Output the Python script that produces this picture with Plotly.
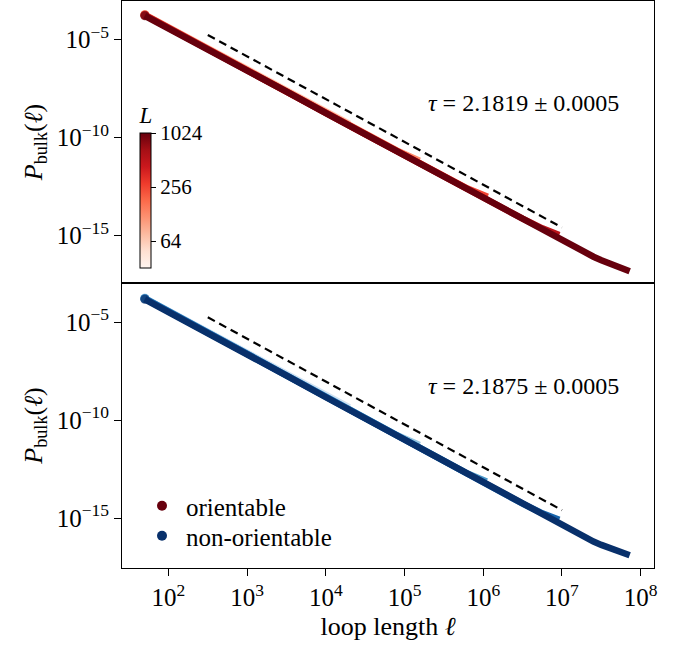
import plotly.graph_objects as go
import math

# ---------------- data (log10 units) ----------------
L_values = [32, 64, 128, 256, 512, 1024]

# orientable (top panel): log10(loop length) and log10(P_bulk) per system size L
ori_x = {
    32:   [1.70, 2.0, 2.5, 3.0, 3.4],
    64:   [1.70, 2.0, 2.5, 3.0, 3.5, 4.0, 4.3],
    128:  [1.70, 2.0, 2.5, 3.0, 3.5, 4.0, 4.5, 4.9, 5.19],
    256:  [1.70, 2.0, 2.5, 3.0, 3.5, 4.0, 4.5, 5.0, 5.5, 5.8, 6.056],
    512:  [1.70, 2.0, 2.5, 3.0, 3.5, 4.0, 4.5, 5.0, 5.5, 6.0, 6.5, 6.75, 6.965],
    1024: [1.70, 1.85, 2.0, 2.5, 3.0, 3.5, 4.0, 4.5, 5.0, 5.5, 6.0, 6.5, 7.0,
           7.1, 7.2, 7.3, 7.4, 7.5, 7.6, 7.7, 7.8, 7.86],
}
ori_y = {
    32:   [-3.72, -4.37, -5.45, -6.52, -7.35],
    64:   [-3.73, -4.38, -5.46, -6.55, -7.62, -8.68, -9.30],
    128:  [-3.74, -4.39, -5.47, -6.56, -7.64, -8.72, -9.80, -10.66, -11.18],
    256:  [-3.75, -4.39, -5.47, -6.56, -7.65, -8.74, -9.83, -10.91, -11.98, -12.60, -13.02],
    512:  [-3.76, -4.40, -5.47, -6.56, -7.65, -8.74, -9.83, -10.92, -12.01, -13.08, -14.14, -14.63, -14.97],
    1024: [-3.79, -4.12, -4.41, -5.48, -6.57, -7.66, -8.75, -9.84, -10.93, -12.02, -13.10, -14.18, -15.27,
           -15.48, -15.69, -15.89, -16.08, -16.26, -16.43, -16.59, -16.74, -16.82],
}

# non-orientable (bottom panel)
non_x = {
    32:   [1.70, 2.0, 2.5, 3.0, 3.4],
    64:   [1.70, 2.0, 2.5, 3.0, 3.5, 4.0, 4.3],
    128:  [1.70, 2.0, 2.5, 3.0, 3.5, 4.0, 4.5, 4.9, 5.19],
    256:  [1.70, 2.0, 2.5, 3.0, 3.5, 4.0, 4.5, 5.0, 5.5, 5.8, 6.043],
    512:  [1.70, 2.0, 2.5, 3.0, 3.5, 4.0, 4.5, 5.0, 5.5, 6.0, 6.5, 6.75, 6.965],
    1024: [1.70, 1.85, 2.0, 2.5, 3.0, 3.5, 4.0, 4.5, 5.0, 5.5, 6.0, 6.5, 7.0,
           7.1, 7.2, 7.3, 7.4, 7.5, 7.6, 7.7, 7.8, 7.86],
}
non_y = {
    32:   [-3.77, -4.41, -5.51, -6.59, -7.44],
    64:   [-3.78, -4.42, -5.52, -6.61, -7.70, -8.78, -9.36],
    128:  [-3.79, -4.43, -5.53, -6.62, -7.72, -8.81, -9.89, -10.77, -11.28],
    256:  [-3.80, -4.43, -5.54, -6.63, -7.73, -8.83, -9.92, -11.01, -12.09, -12.73, -13.14],
    512:  [-3.81, -4.44, -5.54, -6.63, -7.73, -8.83, -9.92, -11.02, -12.11, -13.20, -14.27, -14.76, -15.09],
    1024: [-3.84, -4.16, -4.45, -5.55, -6.64, -7.74, -8.84, -9.93, -11.03, -12.12, -13.22, -14.31, -15.41,
           -15.62, -15.82, -16.02, -16.20, -16.37, -16.53, -16.68, -16.82, -16.90],
}

# power-law guide lines (dashed)
fit_x = [2.5, 7.0]
ori_fit_y = [-4.77, -14.59]
non_fit_y = [-4.76, -14.60]
ori_tau_text = "<i>τ</i> = 2.1819 ± 0.0005"
non_tau_text = "<i>τ</i> = 2.1875 ± 0.0005"

x_tick_exp = [2, 3, 4, 5, 6, 7, 8]
y_tick_exp = [-5, -10, -15]
cbar_ticks = [64, 256, 1024]
legend_labels = ["orientable", "non-orientable"]

# ---------------- styling helpers ----------------
REDS = ["#fff5f0", "#fee0d2", "#fcbba1", "#fc9272", "#fb6a4a", "#ef3b2c", "#cb181d", "#a50f15", "#67000d"]
BLUES = ["#f7fbff", "#deebf7", "#c6dbef", "#9ecae1", "#6baed6", "#4292c6", "#2171b5", "#08519c", "#08306b"]


def hex2rgb(h):
    h = h.lstrip("#")
    return [int(h[i:i + 2], 16) for i in (0, 2, 4)]


def cmap(stops, t):
    t = min(max(t, 0.0), 1.0)
    n = len(stops) - 1
    i = min(int(t * n), n - 1)
    f = t * n - i
    a, b = hex2rgb(stops[i]), hex2rgb(stops[i + 1])
    c = [round(a[k] + (b[k] - a[k]) * f) for k in range(3)]
    return "rgb(%d,%d,%d)" % tuple(c)


LOGMIN, LOGMAX = math.log2(32), math.log2(1024)


def norm(L):
    return (math.log2(L) - LOGMIN) / (LOGMAX - LOGMIN)


FONT = "Liberation Serif"
TICK_FS = 25
TITLE_FS = 26
LEG_FS = 25
ANN_FS = 24
CB_FS = 21

fig = go.Figure()


def add_curve(xs, ys, col, xa, ya):
    sizes = [9] + [0] * (len(xs) - 1)
    fig.add_trace(go.Scatter(
        x=[10 ** v for v in xs], y=[10 ** v for v in ys],
        mode="lines+markers", line=dict(color=col, width=6.5),
        marker=dict(color=col, size=sizes, line=dict(width=0)), showlegend=False,
        xaxis=xa, yaxis=ya, hoverinfo="skip"))


for L in L_values:
    add_curve(ori_x[L], ori_y[L], cmap(REDS, norm(L)), "x2", "y2")
for L in L_values:
    add_curve(non_x[L], non_y[L], cmap(BLUES, norm(L)), "x", "y")

# dashed guides
fig.add_trace(go.Scatter(x=[10 ** v for v in fit_x], y=[10 ** v for v in ori_fit_y], mode="lines",
                         line=dict(color="black", width=2.2, dash="8px,5px"), showlegend=False,
                         xaxis="x2", yaxis="y2"))
fig.add_trace(go.Scatter(x=[10 ** v for v in fit_x], y=[10 ** v for v in non_fit_y], mode="lines",
                         line=dict(color="black", width=2.2, dash="8px,5px"), showlegend=False,
                         xaxis="x", yaxis="y"))

# legend entries (two legends so the row spacing can match)
fig.add_trace(go.Scatter(x=[None], y=[None], mode="markers", name=legend_labels[0],
                         marker=dict(color=REDS[-1], size=10), xaxis="x", yaxis="y", legend="legend"))
fig.add_trace(go.Scatter(x=[None], y=[None], mode="markers", name=legend_labels[1],
                         marker=dict(color=BLUES[-1], size=10), xaxis="x", yaxis="y", legend="legend2"))

# colorbar carrier
PL, PR, PT, PB = 122, 34, 1, 77
W, H = 688, 645
pw, ph = W - PL - PR, H - PT - PB
cb_top_px, cb_len_px = 103, 165
fig.add_trace(go.Scatter(
    x=[None], y=[None], mode="markers", showlegend=False, xaxis="x2", yaxis="y2",
    marker=dict(color=[LOGMIN], cmin=LOGMIN, cmax=LOGMAX,
                colorscale=[[i / 8, c] for i, c in enumerate(REDS)], showscale=True,
                colorbar=dict(
                    x=(140 - PL) / pw, xanchor="left", xpad=0,
                    y=(H - PB - cb_top_px) / ph, yanchor="top", ypad=0,
                    len=cb_len_px, lenmode="pixels", thickness=11,
                    outlinewidth=1, outlinecolor="black",
                    ticks="outside", ticklen=5, tickcolor="black",
                    tickvals=[math.log2(v) for v in cbar_ticks],
                    ticktext=[str(v) for v in cbar_ticks],
                    tickfont=dict(family=FONT, size=CB_FS, color="black"),
                    title=dict(text="<i>L</i>", side="top",
                               font=dict(family=FONT, size=CB_FS + 2, color="black"))))))

split = 285 / 567
xcommon = dict(type="log", range=[1.41, 8.169], showline=True, linecolor="black", linewidth=1,
               mirror=True, showgrid=False, zeroline=False)
ycommon = dict(type="log", showline=True, linecolor="black", linewidth=1, mirror=True,
               showgrid=False, zeroline=False, ticks="outside", ticklen=7, tickcolor="black",
               tickvals=[10.0 ** e for e in y_tick_exp],
               ticktext=["10<sup>−%d</sup>" % (-e) for e in y_tick_exp],
               tickfont=dict(family=FONT, size=TICK_FS, color="black"),
               title=dict(text="<i>P</i><sub>bulk</sub>(<i>ℓ</i>)", standoff=6,
                          font=dict(family=FONT, size=TITLE_FS, color="black")))

leg_common = dict(x=(138 - PL) / pw, xanchor="left", yanchor="middle",
                  bgcolor="rgba(0,0,0,0)", borderwidth=0, itemwidth=38,
                  font=dict(family=FONT, size=LEG_FS, color="black"))

fig.update_layout(
    width=W, height=H, margin=dict(l=PL, r=PR, t=PT, b=PB),
    paper_bgcolor="white", plot_bgcolor="white",
    font=dict(family=FONT, size=TICK_FS, color="black"),
    xaxis=dict(**xcommon, domain=[0, 1], anchor="y", ticks="outside", ticklen=7, tickcolor="black",
               tickvals=[10.0 ** e for e in x_tick_exp],
               ticktext=["10<sup>%d</sup>" % e for e in x_tick_exp],
               tickfont=dict(family=FONT, size=TICK_FS, color="black"),
               title=dict(text="loop length <i>ℓ</i>", standoff=6,
                          font=dict(family=FONT, size=TITLE_FS, color="black"))),
    xaxis2=dict(**xcommon, domain=[0, 1], anchor="y2", matches="x", showticklabels=False, ticks=""),
    yaxis=dict(**ycommon, domain=[0, split], range=[-17.55, -3.01], anchor="x"),
    yaxis2=dict(**ycommon, domain=[split, 1], range=[-17.42, -3.036], anchor="x2"),
    legend=dict(**leg_common, x_=None) if False else dict(**leg_common, y=(H - PB - 506) / ph),
    legend2=dict(**leg_common, y=(H - PB - 536) / ph),
    annotations=[
        dict(text=ori_tau_text, x=(621 - PL) / pw, y=(H - PB - 103) / ph, xref="paper", yref="paper",
             xanchor="right", yanchor="middle", showarrow=False,
             font=dict(family=FONT, size=ANN_FS, color="black")),
        dict(text=non_tau_text, x=(621 - PL) / pw, y=(H - PB - 386) / ph, xref="paper", yref="paper",
             xanchor="right", yanchor="middle", showarrow=False,
             font=dict(family=FONT, size=ANN_FS, color="black")),
    ],
)

fig.write_html("out.html")
